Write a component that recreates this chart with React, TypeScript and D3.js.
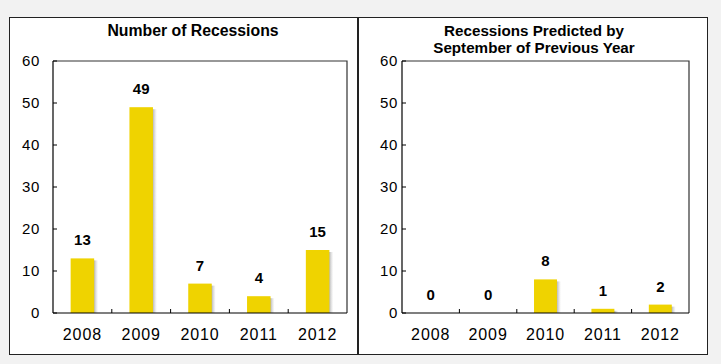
import React from 'react';
import * as d3 from 'd3';

const years = ['2008', '2009', '2010', '2011', '2012'];
const totalRecessions = [13, 49, 7, 4, 15];
const predictedRecessions = [0, 0, 8, 1, 2];
const yTicks = [0, 10, 20, 30, 40, 50, 60];

const BAR_COLOR = '#efd300';
const FONT = 'Arial, "Liberation Sans", Helvetica, sans-serif';

interface PanelProps {
  box: [number, number, number, number];
  plot: [number, number, number, number];
  titleLines: string[];
  titleX: number;
  titleSize: number;
  values: number[];
  tickLabelX: number;
  gradId: string;
}

const Panel: React.FC<PanelProps> = ({ box, plot, titleLines, titleX, titleSize, values, tickLabelX, gradId }) => {
  const [bx, by, bw, bh] = box;
  const [px, py, pw, ph] = plot;

  const x = d3.scaleBand<string>().domain(years).range([px, px + pw]).paddingInner(0.6).paddingOuter(0.3);
  const band = d3.scaleBand<string>().domain(years).range([px, px + pw]);
  const y = d3.scaleLinear().domain([0, 60]).range([py + ph, py]);

  return (
    <g>
      <rect x={bx} y={by} width={bw} height={bh} fill="#fff" stroke="#222" strokeWidth={1} />
      {titleLines.map((t, i) => (
        <text key={t} x={titleX} y={36 + i * 17} textAnchor="middle" fontWeight="bold" fontSize={titleSize} fill="#000">
          {t}
        </text>
      ))}

      {/* plot frame */}
      <path d={`M${px},${py}H${px + pw}V${py + ph}`} fill="none" stroke="#333" strokeWidth={1.2} />

      {/* bars + shadow */}
      {values.map((v, i) => {
        const bx0 = x(years[i])!;
        const top = y(v);
        const hgt = y(0) - top;
        if (hgt <= 0) return null;
        return (
          <g key={years[i]}>
            <rect x={bx0 + x.bandwidth() - 1} y={top + 2} width={5} height={hgt - 2} fill={`url(#${gradId})`} />
            <rect x={bx0} y={top} width={x.bandwidth()} height={hgt} fill={BAR_COLOR} />
          </g>
        );
      })}

      {/* axes */}
      <line x1={px} x2={px} y1={py} y2={py + ph} stroke="#000" strokeWidth={1.2} />
      <line x1={px} x2={px + pw} y1={py + ph} y2={py + ph} stroke="#000" strokeWidth={1.2} />
      {yTicks.map(t => (
        <g key={t}>
          <line x1={px} x2={px + 4} y1={y(t)} y2={y(t)} stroke="#000" strokeWidth={1} />
          <text x={tickLabelX} y={y(t) + 5} textAnchor="end" fontSize={15} letterSpacing={0.6} fill="#000">{t}</text>
        </g>
      ))}
      {years.slice(1).map(yr => (
        <line key={yr} x1={band(yr)!} x2={band(yr)!} y1={py + ph} y2={py + ph - 4} stroke="#000" strokeWidth={1} />
      ))}
      {years.map(yr => (
        <text key={yr} x={band(yr)! + band.bandwidth() / 2} y={340} textAnchor="middle" fontSize={16}
          letterSpacing={0.9} fill="#000">
          {yr}
        </text>
      ))}

      {/* value labels */}
      {values.map((v, i) => (
        <text key={years[i]} x={x(years[i])! + x.bandwidth() / 2} y={y(v) - 13} textAnchor="middle"
          fontWeight="bold" fontSize={15} fill="#000">
          {v}
        </text>
      ))}
    </g>
  );
};

const App: React.FC = () => {
  return (
    <div style={{ position: 'absolute', left: 0, top: 0 }}>
      <svg width={721} height={364} style={{ display: 'block', fontFamily: FONT }}>
        <defs>
          {['shL', 'shR'].map(id => (
            <linearGradient key={id} id={id} x1="0" x2="1" y1="0" y2="0">
              <stop offset="0" stopColor="#888" stopOpacity={0.8} />
              <stop offset="1" stopColor="#bbb" stopOpacity={0} />
            </linearGradient>
          ))}
        </defs>
        <rect x={0} y={0} width={721} height={364} fill="#f2f2f2" />
        <Panel
          box={[9.5, 17.5, 348, 337]}
          plot={[53, 61, 294, 252]}
          titleLines={['Number of Recessions']}
          titleX={193}
          titleSize={15.8}
          values={totalRecessions}
          tickLabelX={40}
          gradId="shL"
        />
        <Panel
          box={[358.5, 17.5, 349, 337]}
          plot={[402, 61, 287, 252]}
          titleLines={['Recessions Predicted by', 'September of Previous Year']}
          titleX={534}
          titleSize={15.2}
          values={predictedRecessions}
          tickLabelX={398}
          gradId="shR"
        />
      </svg>
    </div>
  );
};

export default App;
